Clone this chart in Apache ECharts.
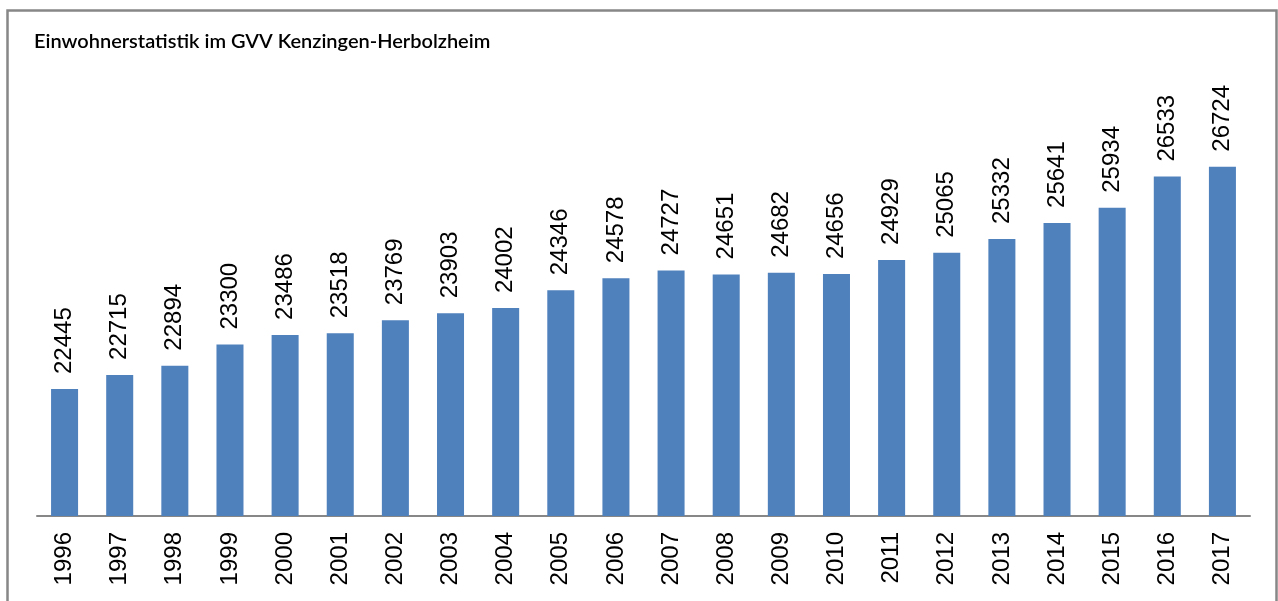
<!DOCTYPE html>
<html>
<head>
<meta charset="utf-8">
<script src="https://cdn.jsdelivr.net/npm/echarts@6/dist/echarts.min.js"></script>
<style>
html,body{margin:0;padding:0;background:#fff;}
#c{width:1278px;height:601px;}
</style>
</head>
<body>
<div id="c"></div>
<script>
const titleText = 'Einwohnerstatistik im GVV Kenzingen-Herbolzheim';
const years = ['1996','1997','1998','1999','2000','2001','2002','2003','2004','2005','2006','2007','2008','2009','2010','2011','2012','2013','2014','2015','2016','2017'];
const population = [22445,22715,22894,23300,23486,23518,23769,23903,24002,24346,24578,24727,24651,24682,24656,24929,25065,25332,25641,25934,26533,26724];

const chart = echarts.init(document.getElementById('c'), null, {renderer:'canvas'});
chart.setOption({
  animation: false,
  backgroundColor: '#ffffff',
  title: {
    text: titleText,
    left: 29,
    top: 27,
    padding: [5, 5, 5, 5],
    textStyle: {
      fontFamily: 'Lato, "Open Sans", sans-serif',
      fontSize: 20,
      fontWeight: 600,
      color: '#000000'
    }
  },
  graphic: [{
    type: 'rect',
    shape: {x: 7.5, y: 10.5, width: 1269, height: 700},
    style: {fill: 'none', stroke: '#878787', lineWidth: 2.5},
    silent: true,
    z: 100
  }],
  grid: {left: 37, right: 28, top: 100.4, bottom: 85},
  xAxis: {
    type: 'category',
    data: years,
    axisLine: {lineStyle: {color: '#878787', width: 2}},
    axisTick: {show: false},
    axisLabel: {
      rotate: 90,
      margin: 16,
      interval: 0,
      fontFamily: '"Liberation Sans", Arial, sans-serif',
      fontSize: 24,
      color: '#000000'
    }
  },
  yAxis: {
    type: 'value',
    min: 20000,
    max: 28000,
    show: false,
    splitLine: {show: false}
  },
  series: [{
    type: 'bar',
    data: population,
    barCategoryGap: '51%',
    itemStyle: {color: '#4f81bd'},
    label: {
      show: true,
      position: 'top',
      rotate: 90,
      align: 'left',
      verticalAlign: 'middle',
      distance: 15,
      fontFamily: '"Liberation Sans", Arial, sans-serif',
      fontSize: 24,
      color: '#000000'
    }
  }]
});
</script>
</body>
</html>
